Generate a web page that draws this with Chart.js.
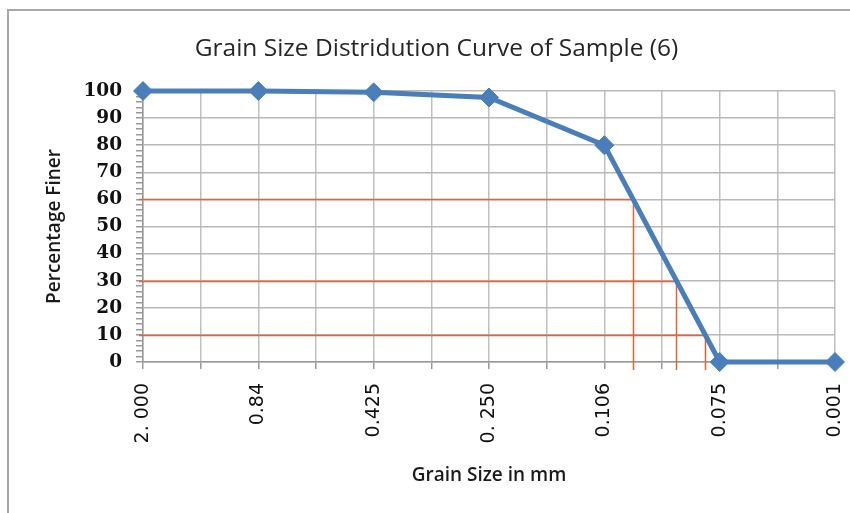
<!DOCTYPE html>
<html><head><meta charset="utf-8">
<script src="https://cdn.jsdelivr.net/npm/chart.js@4.4.0/dist/chart.umd.min.js"></script>
<style>
html,body{margin:0;padding:0;background:#fff;overflow:hidden}
#frame{position:absolute;left:7px;top:9px;width:900px;height:600px;border-top:2px solid #a6a6a6;border-left:2px solid #a6a6a6}
#c{position:absolute;left:0;top:0}
</style></head><body>
<div id="frame"></div>
<canvas id="c" width="850" height="513"></canvas>
<script>
// ---- data ----
const categories = ["2. 000", "0.84", "0.425", "0. 250", "0.106", "0.075", "0.001"];
const percentFiner = [100, 100, 99.5, 97.6, 80, 0, 0];
const guideLevels = [60, 30, 10];
const yMin = 0, yMax = 100, yMajorStep = 10, yMinorStep = 2;

const NARROW = '"Open Sans", sans-serif';

function crossingIndex(level){
  for (let i = 0; i < percentFiner.length - 1; i++){
    const a = percentFiner[i], b = percentFiner[i+1];
    if (a !== b && (a - level) * (b - level) <= 0) return i + (a - level) / (a - b);
  }
  return null;
}

const guidePlugin = {
  id: 'guides',
  beforeDatasetsDraw(chart){
    const {ctx, scales:{x, y}} = chart;
    ctx.save();
    ctx.strokeStyle = '#e3623a';
    ctx.lineWidth = 1.5;
    guideLevels.forEach(lv => {
      const xi = crossingIndex(lv);
      if (xi === null) return;
      const px = Math.round(x.getPixelForValue(xi)) + 0.5;
      const py = Math.round(y.getPixelForValue(lv)) + 0.5;
      ctx.beginPath();
      ctx.moveTo(x.left - 4, py);
      ctx.lineTo(px, py);
      ctx.lineTo(px, y.getPixelForValue(yMin) + 8);
      ctx.stroke();
    });
    ctx.restore();
  }
};

const points = categories.map((c, i) => ({x: i, y: percentFiner[i]}));

new Chart(document.getElementById('c'), {
  type: 'line',
  data: {
    datasets: [{
      data: points,
      borderColor: '#4a7ebb',
      backgroundColor: '#4a7ebb',
      borderWidth: 5,
      pointStyle: 'rectRot',
      pointRadius: 9.5,
      pointBackgroundColor: '#4a7ebb',
      pointBorderColor: '#4a7ebb',
      pointBorderWidth: 1,
      tension: 0,
      clip: false
    }]
  },
  options: {
    responsive: false,
    animation: false,
    layout: { padding: { left: 38, right: 15, top: 0, bottom: 19 } },
    plugins: {
      legend: { display: false },
      tooltip: { enabled: false },
      title: {
        display: true,
        text: 'Grain Size Distridution Curve of Sample (6)',
        color: '#262626',
        font: { family: NARROW, size: 24.5, weight: 'normal', lineHeight: 1.2 },
        padding: { top: 34, bottom: 27.6 }
      }
    },
    scales: {
      x: {
        type: 'linear',
        min: 0,
        max: categories.length - 1,
        ticks: {
          stepSize: 0.5,
          autoSkip: false,
          minRotation: 90,
          maxRotation: 90,
          padding: 14,
          color: '#111',
          font: { family: 'DejaVu Sans', size: 19 },
          callback: v => Math.abs(v - Math.round(v)) < 1e-6 ? categories[Math.round(v)] : ''
        },
        grid: { color: '#c0c0c0', tickColor: '#999', tickLength: 7, lineWidth: 1.5 },
        border: { color: '#999', width: 1.5 },
        title: {
          display: true, text: 'Grain Size in mm', color: '#1a1a1a',
          font: { family: NARROW, size: 19, weight: '600', lineHeight: 1.2 },
          padding: { top: 0, bottom: 7 }
        },
        afterFit(s){ s.height = 513 - 19 - 362; s.paddingLeft = 0; s.paddingRight = 0; }
      },
      y: {
        min: yMin,
        max: yMax,
        ticks: {
          stepSize: yMinorStep,
          autoSkip: false,
          padding: 14,
          color: '#111',
          font: { family: 'DejaVu Serif', size: 18.5, weight: 'bold' },
          callback: v => Math.round(v) % yMajorStep === 0 ? Math.round(v) : ''
        },
        grid: {
          color: c => (c.tick && Math.round(c.tick.value) % yMajorStep === 0) ? '#b8b8b8' : 'rgba(0,0,0,0)',
          tickColor: '#999',
          tickLength: 7,
          lineWidth: 1.5
        },
        border: { color: '#999', width: 1.5 },
        title: {
          display: true, text: 'Percentage Finer', color: '#1a1a1a',
          font: { family: NARROW, size: 19, weight: '600', lineHeight: 1.2 },
          padding: { top: 5, bottom: 0 }
        },
        afterFit(s){ s.width = 143 - 38; s.paddingTop = 0; s.paddingBottom = 0; }
      }
    }
  },
  plugins: [guidePlugin]
});
</script>
</body></html>
